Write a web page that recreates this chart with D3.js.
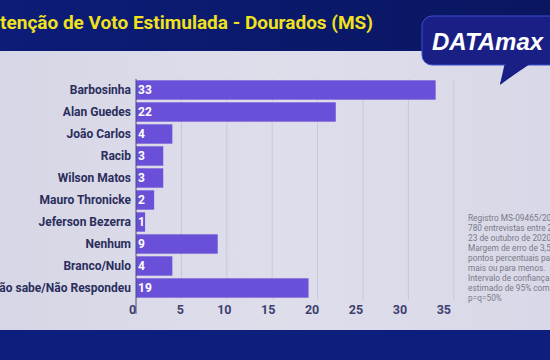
<!DOCTYPE html>
<html><head><meta charset="utf-8">
<script src="https://cdn.jsdelivr.net/npm/d3@7/dist/d3.min.js"></script>
<style>html,body{margin:0;padding:0;background:#dcdcea;overflow:hidden}</style>
</head><body>
<svg id="c" width="550" height="360"></svg>
<script>
const categories = ["Barbosinha","Alan Guedes","João Carlos","Racib","Wilson Matos","Mauro Thronicke","Jeferson Bezerra","Nenhum","Branco/Nulo","Não sabe/Não Respondeu"];
const values = [33,22,4,3,3,2,1,9,4,19];
const xTicks = [0,5,10,15,20,25,30,35];
const title = "Intenção de Voto Estimulada - Dourados (MS)";
const brand = "DATAmax";
const noteLines = ["Registro MS-09465/2020","780 entrevistas entre 21 e","23 de outubro de 2020.","Margem de erro de 3,5","pontos percentuais para","mais ou para menos.","Intervalo de confiança","estimado de 95% com","p=q=50%"];

const svg = d3.select("#c");
const defs = svg.append("defs");
const g1 = defs.append("linearGradient").attr("id","top").attr("x1",0).attr("x2",1);
g1.append("stop").attr("offset",0).attr("stop-color","#0c1c78");
g1.append("stop").attr("offset",1).attr("stop-color","#0a1660");
const g2 = defs.append("linearGradient").attr("id","panel").attr("x1",0).attr("x2",1);
g2.append("stop").attr("offset",0).attr("stop-color","#d6d6e6");
g2.append("stop").attr("offset",0.5).attr("stop-color","#dedeeb");
g2.append("stop").attr("offset",1).attr("stop-color","#d8d8e8");

svg.append("rect").attr("x",0).attr("y",0).attr("width",550).attr("height",360).attr("fill","url(#panel)");
svg.append("rect").attr("x",0).attr("y",0).attr("width",550).attr("height",51).attr("fill","url(#top)");
svg.append("rect").attr("x",0).attr("y",330).attr("width",550).attr("height",30).attr("fill","#0d1e7c");

svg.append("text").attr("x",373).attr("y",29).attr("text-anchor","end")
  .attr("font-family","Roboto, 'Liberation Sans', sans-serif").attr("font-weight","bold")
  .attr("font-size",19).attr("fill","#f0e21c").text(title);

// bubble
svg.append("path").attr("d","M505,62 L531,62 L500,85 Z").attr("fill","#1a1f86");
svg.append("rect").attr("x",422).attr("y",16).attr("width",150).attr("height",49).attr("rx",10)
  .attr("fill","#1a1f86").attr("stroke","#3b4fd0").attr("stroke-width",1);
svg.append("path").attr("d","M506,64 L530,64 L500,84 Z").attr("fill","#1a1f86");
svg.append("text").attr("x",432).attr("y",50)
  .attr("font-family","'Liberation Sans', Arial, sans-serif").attr("font-weight","bold").attr("font-style","italic")
  .attr("font-size",24).attr("fill","#ffffff").text(brand);

const x = d3.scaleLinear().domain([0,35]).range([136,136+35*9.08]);
const y = d3.scaleBand().domain(categories).range([79,299]).paddingInner(0.12).paddingOuter(0.06);

// gridlines
svg.append("g").selectAll("line").data(xTicks.slice(1)).join("line")
  .attr("x1",d=>x(d)).attr("x2",d=>x(d)).attr("y1",79).attr("y2",300)
  .attr("stroke","#c8c8da").attr("stroke-width",1);

svg.append("g").selectAll("rect").data(values).join("rect")
  .attr("x",x(0)).attr("y",(d,i)=>y(categories[i])).attr("width",d=>x(d)-x(0)).attr("height",y.bandwidth())
  .attr("fill","#6a4fd8");

svg.append("g").selectAll("text").data(values).join("text")
  .attr("x",x(0)+2).attr("y",(d,i)=>y(categories[i])+y.bandwidth()/2).attr("dy","0.36em")
  .attr("font-family","Roboto, sans-serif").attr("font-weight","bold").attr("font-size",12)
  .attr("fill","#ffffff").text(d=>d);

svg.append("g").selectAll("text").data(categories).join("text")
  .attr("x",131).attr("y",d=>y(d)+y.bandwidth()/2).attr("dy","0.36em").attr("text-anchor","end")
  .attr("font-family","Roboto, sans-serif").attr("font-weight","bold").attr("font-size",12)
  .attr("fill","#2b2e5c").text(d=>d);

svg.append("line").attr("x1",x(0)).attr("x2",x(0)).attr("y1",79).attr("y2",314)
  .attr("stroke","#4a4d78").attr("stroke-width",1);

const ax = svg.append("g").attr("transform","translate(0,309)")
  .call(d3.axisBottom(x).tickValues(xTicks).tickSize(0).tickPadding(0));
ax.select(".domain").remove();
ax.selectAll("text").attr("dy","0.36em").attr("dx",d=>d===0?-4:-d*0.3)
  .attr("font-family","Roboto, sans-serif").attr("font-weight","bold").attr("font-size",12.5).attr("fill","#3d4070");

svg.append("g").selectAll("text").data(noteLines).join("text")
  .attr("x",468).attr("y",(d,i)=>221+i*10)
  .attr("font-family","Roboto, sans-serif").attr("font-size",8.3).attr("fill","#7a7a88").text(d=>d);
</script>
</body></html>
